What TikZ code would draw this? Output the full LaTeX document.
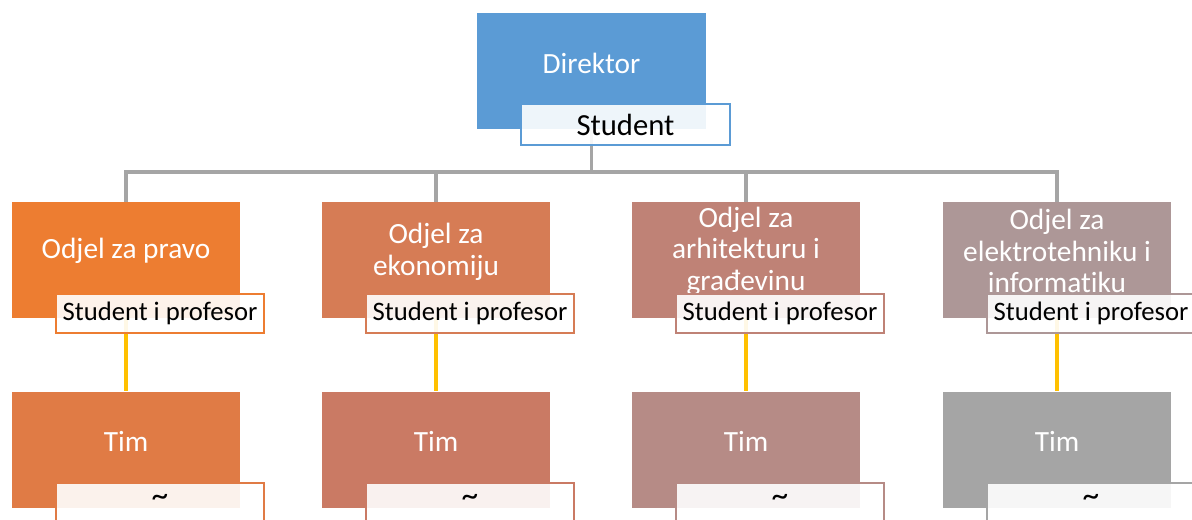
\documentclass[tikz,border=0pt]{standalone}
\usepackage{fontspec}
\setmainfont{Carlito}[Ligatures=NoCommon]
\usetikzlibrary{positioning}

\definecolor{dirblue}{HTML}{5B9BD5}
\definecolor{deptA}{HTML}{ED7D31}
\definecolor{deptB}{HTML}{D67C55}
\definecolor{deptC}{HTML}{BF8276}
\definecolor{deptD}{HTML}{AD9797}
\definecolor{timA}{HTML}{E07B45}
\definecolor{timB}{HTML}{CA7A64}
\definecolor{timC}{HTML}{B68B86}
\definecolor{timD}{HTML}{A5A5A5}
\definecolor{busgray}{HTML}{A5A5A5}
\definecolor{timyellow}{HTML}{FFC000}

\newcommand{\tildemark}{\raisebox{2pt}{\fontsize{25}{25}\selectfont\textasciitilde}}

\tikzset{
	unitbox/.style={rectangle, inner sep=0pt, minimum width=171pt, minimum height=87pt},
	boxtext/.style={text=white, align=center, inner sep=0pt, font=\fontsize{22}{23.6}\selectfont},
	rolebox/.style={rectangle, draw=#1, line width=1.5pt, fill=white, fill opacity=0.9, text opacity=1,
		inner sep=0pt, minimum width=156pt, minimum height=29.25pt, font=\fontsize{20}{22}\selectfont},
	busline/.style={draw=busgray, line width=2.3pt},
	timline/.style={draw=timyellow, line width=2.3pt}
}

\begin{document}
\begin{tikzpicture}[x=0.75pt,y=0.75pt,yscale=-1,xscale=1]
		\useasboundingbox (0,0) rectangle (1192,519);
		\clip (0,0) rectangle (1192,519);
		
		% Boxes
		\node [unitbox, fill=dirblue, minimum width=171.75pt] (dir) at (591.5,71) {};
		\node [unitbox, fill=deptA] (d1) at (126,260) {};
		\node [unitbox, fill=deptB] (d2) at (436,260) {};
		\node [unitbox, fill=deptC] (d3) at (746,260) {};
		\node [unitbox, fill=deptD] (d4) at (1057,260) {};
		\node [unitbox, fill=timA] (t1) at (126,449.5) {};
		\node [unitbox, fill=timB] (t2) at (436,449.5) {};
		\node [unitbox, fill=timC] (t3) at (746,449.5) {};
		\node [unitbox, fill=timD] (t4) at (1057,449.5) {};
		
		% Connection
		\coordinate (bus) at (591.5,172);
		\draw [busline] (dir.south) |- (bus) -| (d1.north);
		\draw [busline] (dir.south) |- (bus) -| (d2.north);
		\draw [busline] (dir.south) |- (bus) -| (d3.north);
		\draw [busline] (dir.south) |- (bus) -| (d4.north);
		% Connection
		\draw [timline] (d1.south) -- (t1.north);
		\draw [timline] (d2.south) -- (t2.north);
		\draw [timline] (d3.south) -- (t3.north);
		\draw [timline] (d4.south) -- (t4.north);
		
		% Text Node
		\node [boxtext] (dirtxt) at (591.5,63) {Direktor};
		\node [boxtext] (d1txt) at (126,251) {Odjel za pravo};
		\node [boxtext] (d2txt) at (436,252) {Odjel za\\ekonomiju};
		\node [boxtext] (d3txt) at (746,251) {Odjel za\\arhitekturu i\\građevinu};
		\node [boxtext] (d4txt) at (1057,251) {Odjel za\\elektrotehniku i\\informatiku};
		\node [boxtext] (t1txt) at (126,441) {Tim};
		\node [boxtext] (t2txt) at (436,441) {Tim};
		\node [boxtext] (t3txt) at (746,441) {Tim};
		\node [boxtext] (t4txt) at (1057,441) {Tim};
		
		% Role Node
		\node [rolebox=dirblue, minimum width=156.75pt, minimum height=30.75pt, font=\fontsize{23}{25}\selectfont] (dirrole) at (625.5,124.5) {Student};
		\node [rolebox=deptA] (d1role) at (160,313.5) {Student i profesor};
		\node [rolebox=deptB] (d2role) at (470,313.5) {Student i profesor};
		\node [rolebox=deptC] (d3role) at (780,313.5) {Student i profesor};
		\node [rolebox=deptD] (d4role) at (1091,313.5) {Student i profesor};
		\node [rolebox=timA] (t1role) at (160,502) {\tildemark};
		\node [rolebox=timB] (t2role) at (470,502) {\tildemark};
		\node [rolebox=timC] (t3role) at (780,502) {\tildemark};
		\node [rolebox=timD] (t4role) at (1091,502) {\tildemark};
		
		\end{tikzpicture}
\end{document}
